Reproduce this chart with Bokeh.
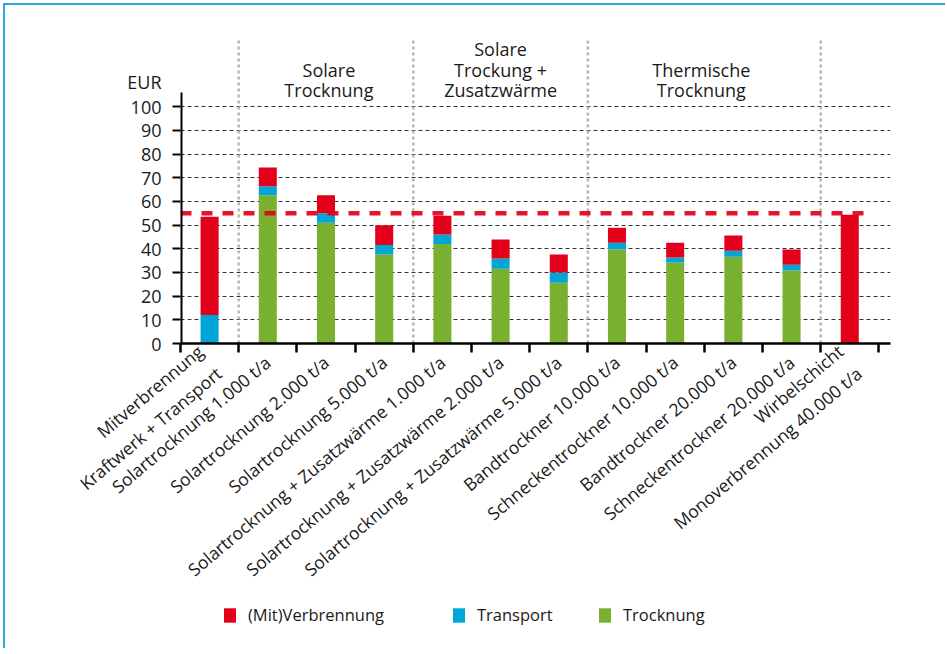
from bokeh.plotting import figure
from bokeh.layouts import column
from bokeh.models import Range1d, FixedTicker, Legend, LegendItem, ColumnDataSource
from bokeh.core.properties import value
from bokeh.embed import file_html
from bokeh.resources import INLINE

# ---------------- data ----------------
categories = [
    "Mitverbrennung\nKraftwerk + Transport",
    "Solartrocknung 1.000 t/a",
    "Solartrocknung 2.000 t/a",
    "Solartrocknung 5.000 t/a",
    "Solartrocknung + Zusatzwärme 1.000 t/a",
    "Solartrocknung + Zusatzwärme 2.000 t/a",
    "Solartrocknung + Zusatzwärme 5.000 t/a",
    "Bandtrockner 10.000 t/a",
    "Schneckentrockner 10.000 t/a",
    "Bandtrockner 20.000 t/a",
    "Schneckentrockner 20.000 t/a",
    "Wirbelschicht\nMonoverbrennung 40.000 t/a",
]
trocknung   = [0, 62.6, 51.0, 37.6, 42.0, 31.6, 25.7, 39.7, 34.2, 36.7, 30.8, 0]
transport   = [12.0, 3.8, 4.0, 4.0, 4.0, 4.3, 4.3, 2.9, 2.1, 2.5, 2.5, 0]
verbrennung = [41.5, 8.0, 7.6, 8.4, 8.0, 8.0, 7.6, 6.3, 6.3, 6.4, 6.4, 54.4]
series_names = ["Trocknung", "Transport", "(Mit)Verbrennung"]
y_ticks = [0, 10, 20, 30, 40, 50, 60, 70, 80, 90, 100]
threshold = 55
group_bounds = [1, 4, 7, 11]
group_titles = [["Solare", "Trocknung"],
                ["Solare", "Trockung +", "Zusatzwärme"],
                ["Thermische", "Trocknung"]]
group_centers = [2.55, 5.5, 8.95]
y_unit = "EUR"
y_unit_pos = 110.5

# ---------------- style ----------------
RED, CYAN, GREEN = "#E2001A", "#00A6D6", "#7AB030"
COLORS = [GREEN, CYAN, RED]
FONT = "Open Sans"
TXT = "#1a1a1a"
FRAME_BLUE = "2px solid #29ABE2"

n = len(categories)
xc = [i + 0.5 for i in range(n)]
src = ColumnDataSource(dict(x=xc, tro=trocknung, tra=transport, ver=verbrennung))

W, H = 942, 595
p = figure(width=W, height=H, output_backend="svg", toolbar_location=None,
           x_range=Range1d(0, 12.2), y_range=Range1d(0, 129.7),
           min_border_left=175, min_border_right=57, min_border_top=31, min_border_bottom=257)
p.outline_line_color = None
p.background_fill_color = "white"
p.styles = {"border-top": FRAME_BLUE, "border-left": FRAME_BLUE}

# grid
p.xgrid.visible = False
p.ygrid.ticker = FixedTicker(ticks=y_ticks)
p.ygrid.grid_line_color = "#333333"
p.ygrid.grid_line_dash = "4 3"
p.ygrid.grid_line_width = 1.2

# separators
p.segment(x0=group_bounds, y0=[0] * len(group_bounds), x1=group_bounds,
          y1=[128.3] * len(group_bounds), line_color="#b5b5b5", line_width=2.5, line_dash="3 3")

# bars
rs = p.vbar_stack(["tro", "tra", "ver"], x="x", width=0.31, color=COLORS,
                  line_width=0, source=src)

# threshold
p.line(x=[0, n - 0.1], y=[threshold, threshold], line_color=RED, line_width=4.5,
       line_dash="11 10", line_alpha=0.92)

# y spine (only up to ~106)
p.segment(x0=[0], y0=[0], x1=[0], y1=[106], line_color="black", line_width=4)

# group titles
tx, ty, tt = [], [], []
for c, lines in zip(group_centers, group_titles):
    k = len(lines)
    for j, t in enumerate(lines):
        tx.append(c)
        ty.append(107.1 + (k - 1 - j) * 8.65)
        tt.append(t)
p.text(x=tx, y=ty, text=tt, text_align="center", text_baseline="middle",
       text_font=value(FONT), text_font_size="18px", text_color=TXT)

# y axis: major ticks carry labels (+ unit label), minor ticks draw the tick marks
ya = p.yaxis[0]
ya.ticker = FixedTicker(ticks=y_ticks + [y_unit_pos], minor_ticks=y_ticks)
ya.major_label_overrides = {y_unit_pos: y_unit}
ya.axis_line_color = None
ya.major_tick_out = 0
ya.major_tick_in = 0
ya.minor_tick_out = 8
ya.minor_tick_in = 0
ya.minor_tick_line_width = 2
ya.minor_tick_line_color = "black"
ya.major_label_standoff = 11
ya.major_label_text_font = FONT
ya.major_label_text_font_size = "18px"
ya.major_label_text_color = TXT

# x axis
xa = p.xaxis[0]
xa.ticker = FixedTicker(ticks=xc, minor_ticks=list(range(n + 1)))
xa.major_label_overrides = {x: c for x, c in zip(xc, categories)}
xa.major_label_orientation = 0.70
xa.axis_line_width = 2.5
xa.axis_line_color = "black"
xa.major_tick_out = 0
xa.major_tick_in = 0
xa.minor_tick_out = 9
xa.minor_tick_in = 0
xa.minor_tick_line_width = 2.5
xa.minor_tick_line_color = "black"
xa.major_label_standoff = 7
xa.major_label_text_font = FONT
xa.major_label_text_font_size = "17.5px"
xa.major_label_text_color = TXT

# ---------------- legend strip ----------------
LH = 50
pl = figure(width=W, height=LH, output_backend="svg", toolbar_location=None,
            x_range=Range1d(0, 1), y_range=Range1d(0, 1),
            x_axis_location=None, y_axis_location=None,
            min_border_left=0, min_border_right=0, min_border_top=0, min_border_bottom=0)
pl.grid.visible = False
pl.outline_line_color = None
pl.styles = {"border-left": FRAME_BLUE}
# swatch proxies (zero-height, invisible in the strip)
sw = [pl.vbar(x=[0.5], top=[0], bottom=[0], width=0.01, fill_color=c, line_color=c, line_alpha=0)
      for c in COLORS]
for r, name, lx in zip([sw[2], sw[1], sw[0]], [series_names[2], series_names[1], series_names[0]],
                       [42, 271, 417]):
    lg = Legend(items=[LegendItem(label=name, renderers=[r])], location=(lx, 22),
                orientation="horizontal", padding=0, margin=0, spacing=0,
                glyph_width=15, glyph_height=18, label_height=18, label_standoff=11,
                label_text_font=FONT, label_text_font_size="16.5px", label_text_color=TXT,
                border_line_color=None, background_fill_alpha=0)
    pl.add_layout(lg, "center")

layout = column(p, pl, spacing=0)
layout.styles = {"margin-left": "3px", "margin-top": "3px"}
open("out.html", "w").write(file_html(layout, INLINE))
